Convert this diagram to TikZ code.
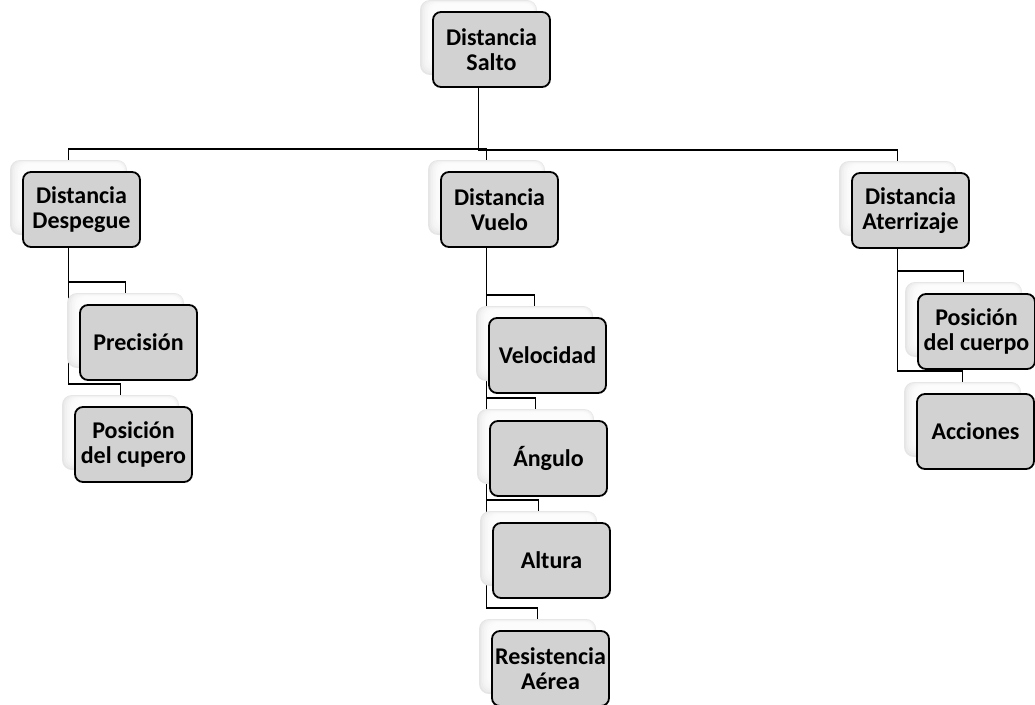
\documentclass[tikz,border=0pt]{standalone}
\usepackage{fontspec}
\setmainfont{Carlito}
\usetikzlibrary{calc}
\pgfdeclarelayer{background}
\pgfsetlayers{background,main}
\definecolor{boxfill}{RGB}{210,210,210}
\tikzset{
  mainbox/.style={draw=black, line width=1.8pt, fill=boxfill, rounded corners=8pt,
    minimum width=117pt, minimum height=75pt, inner sep=0pt, align=center,
    font=\fontsize{24}{25}\selectfont\bfseries},
  glowbox/.style={fill=gray!20, rounded corners=10pt, minimum width=117pt,
    minimum height=75pt, inner sep=0pt,
    path picture={
      \foreach \i/\c in {1/15,2/11,3/8,4/6,5/4,6/3,7/2}{
        \fill[gray!\c, rounded corners=9pt]
          ([xshift={1.6pt*\i}, yshift={-0.5pt*\i}]path picture bounding box.north west)
          rectangle
          ([xshift={-0.5pt*\i}, yshift={1.6pt*\i}]path picture bounding box.south east);
      }
    }},
  link/.style={draw=black, line width=1.8pt}
}
\newcommand{\pairbox}[4]{%
  \node[glowbox] (s#1) at ({#2+45.5},{-(#3+25.5)}) {};
  \node[mainbox] (#1) at ({#2+58.5},{-(#3+37.5)}) {#4};
}
\begin{document}
\begin{tikzpicture}[x=1pt,y=1pt]
\useasboundingbox (0,0) rectangle (1035,-704);
\pairbox{salto}{433}{12}{Distancia\\Salto}
\pairbox{desp}{23}{172}{Distancia\\Despegue}
\pairbox{vuelo}{441}{172}{Distancia\\Vuelo}
\pairbox{ater}{852}{173}{Distancia\\Aterrizaje}
\pairbox{prec}{80}{305}{Precisión}
\pairbox{cupero}{75}{407}{Posición\\del cupero}
\pairbox{vel}{489}{318}{Velocidad}
\pairbox{ang}{490}{421}{Ángulo}
\pairbox{alt}{493}{523}{Altura}
\pairbox{res}{492}{631}{Resistencia\\Aérea}
\pairbox{cuerpo}{918}{294}{Posición\\del cuerpo}
\pairbox{acc}{917}{394}{Acciones}
\begin{pgfonlayer}{background}
\foreach \p/\c in {ssalto/sdesp, ssalto/svuelo, ssalto/sater,
                   sdesp/sprec, sdesp/scupero,
                   svuelo/svel, svuelo/sang, svuelo/salt, svuelo/sres,
                   sater/scuerpo, sater/sacc}
  \draw[link] (\p.south) |- ($(\c.north)+(0,10.5)$) -- (\c.north);
\end{pgfonlayer}
\end{tikzpicture}
\end{document}
